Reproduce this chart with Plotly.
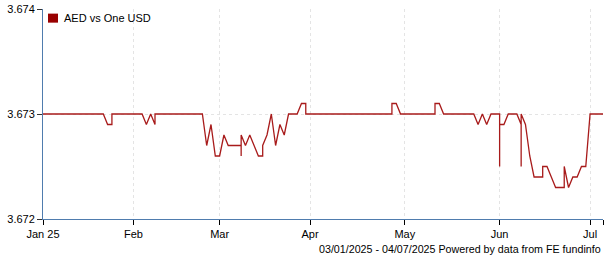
import numpy as np
import pandas as pd
import plotly.graph_objects as go

# ---- data ----
start_date = "2025-01-03"
end_date = "2025-07-04"
trading_days = pd.bdate_range(start_date, end_date)  # 131 weekdays

# AED per one USD, one entry per trading day; tuples hold several quotes on one day
daily_rates = [
    3.673, 3.673, 3.673, 3.673, 3.673, 3.673, 3.673, 3.673, 3.673, 3.673,      # 0-9
    3.673, 3.673, 3.673, 3.673, 3.673, 3.6729, (3.6729, 3.673), 3.673, 3.673, 3.673,  # 10-19
    3.673, 3.673, 3.673, 3.673, 3.6729, 3.673, (3.6729, 3.673), 3.673, 3.673, 3.673,  # 20-29
    3.673, 3.673, 3.673, 3.673, 3.673, 3.673, 3.673, 3.673, 3.6727, 3.6729,    # 30-39
    3.6726, 3.6726, 3.6728, 3.6727, 3.6727, 3.6727, (3.6727, 3.6726, 3.6728), 3.6727, 3.6728, 3.6727,  # 40-49
    3.6726, (3.6726, 3.6727), 3.6728, 3.673, 3.6727, 3.6729, 3.6728, 3.673, 3.673, 3.673,  # 50-59
    3.6731, (3.6731, 3.673), 3.673, 3.673, 3.673, 3.673, 3.673, 3.673, 3.673, 3.673,  # 60-69
    3.673, 3.673, 3.673, 3.673, 3.673, 3.673, 3.673, 3.673, 3.673, 3.673,      # 70-79
    3.673, (3.673, 3.6731), 3.6731, 3.673, 3.673, 3.673, 3.673, 3.673, 3.673, 3.673,  # 80-89
    3.673, (3.673, 3.6731), 3.6731, 3.673, 3.673, 3.673, 3.673, 3.673, 3.673, 3.673,  # 90-99
    3.673, 3.6729, 3.673, 3.6729, 3.673, 3.673, (3.673, 3.6725, 3.6729), 3.6729, 3.673, 3.673,  # 100-109
    3.673, (3.6729, 3.6725, 3.673), 3.6729, 3.6726, 3.6724, 3.6724, (3.6724, 3.6725), 3.6725, 3.6724, 3.6723,  # 110-119
    3.6723, (3.6723, 3.6725), 3.6723, 3.6724, 3.6724, 3.6725, 3.6725, 3.673, 3.673, 3.673,  # 120-129
    3.673,                                                                    # 130
]

month_labels = ["Jan 25", "Feb", "Mar", "Apr", "May", "Jun", "Jul"]
y_ticks = [3.672, 3.673, 3.674]
series_name = "AED vs One USD"
footer_text = "03/01/2025 - 04/07/2025 Powered by data from FE fundinfo"

# ---- build trading-day positions ----
day_pos = np.busday_count(np.datetime64(start_date), trading_days.values.astype("datetime64[D]"))
xs, ys = [], []
for pos, val in zip(day_pos, daily_rates):
    vals = val if isinstance(val, tuple) else (val,)
    for v in vals:
        xs.append(int(pos))
        ys.append(v)

# first trading day of each month -> tick positions
month_first = []
seen = set()
for pos, d in zip(day_pos, trading_days):
    key = (d.year, d.month)
    if key not in seen:
        seen.add(key)
        month_first.append(int(pos))
tick_vals = month_first + [int(day_pos[-1])]
tick_text = month_labels + [""]

FONT = "Liberation Sans, Arial, sans-serif"
AXIS_BLUE = "#4f7cae"
GRID = "#e4e4e4"

fig = go.Figure()
fig.add_trace(go.Scatter(
    x=xs, y=ys, mode="lines", name=series_name, showlegend=False,
    line=dict(color="#a81b1b", width=1.3),
))

fig.update_layout(
    width=605, height=260,
    margin=dict(l=43, r=2, t=9, b=41),
    paper_bgcolor="white", plot_bgcolor="white",
    font=dict(family=FONT, size=11, color="#000000"),
    showlegend=False,
)
fig.update_xaxes(
    range=[0, int(day_pos[-1])],
    tickmode="array", tickvals=tick_vals, ticktext=tick_text,
    showline=True, linecolor=AXIS_BLUE, linewidth=1,
    ticks="outside", ticklen=5, tickcolor="#000000",
    showgrid=True, gridcolor=GRID, griddash="dot", gridwidth=1,
    zeroline=False, tickfont=dict(family=FONT, size=11, color="#000000"),
)
fig.update_yaxes(
    range=[y_ticks[0], y_ticks[-1]],
    tickmode="array", tickvals=y_ticks, ticktext=[f"{v:.3f}" for v in y_ticks],
    showline=True, linecolor=AXIS_BLUE, linewidth=1,
    ticks="outside", ticklen=5, tickcolor="#333333",
    showgrid=True, gridcolor=GRID, griddash="dot", gridwidth=1,
    zeroline=False, tickfont=dict(family=FONT, size=11, color="#000000"),
)

# legend: swatch + label
fig.add_shape(type="rect", xref="paper", yref="paper",
              x0=0.0089, x1=0.0268, y0=0.935, y1=0.978,
              fillcolor="#990000", line=dict(width=0))
fig.add_annotation(text=series_name, xref="paper", yref="paper",
                   x=0.034, y=0.956, xanchor="left", yanchor="middle",
                   showarrow=False, font=dict(family=FONT, size=11, color="#000000"))
# footer
fig.add_annotation(text=footer_text, xref="paper", yref="paper",
                   x=1, y=-0.143, xanchor="right", yanchor="middle", xshift=0,
                   showarrow=False, font=dict(family=FONT, size=10.7, color="#000000"))

fig.write_html("out.html")
